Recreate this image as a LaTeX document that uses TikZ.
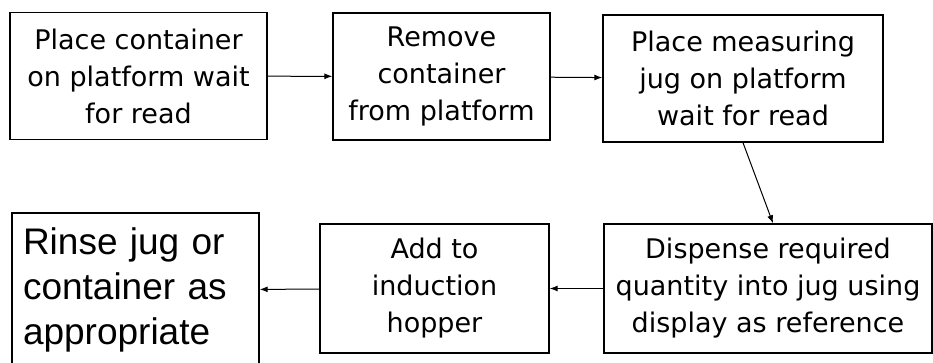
\documentclass[tikz,border=0pt]{standalone}
\usepackage{fontspec}
\setmainfont{DejaVu Sans}
\newfontfamily\rinsefont{Liberation Sans}
\usetikzlibrary{arrows.meta}
\usetikzlibrary{positioning}
\tikzset{
	stepbox/.style={draw, line width=1.4pt, align=center, inner sep=2pt,
		font=\fontsize{27}{37}\selectfont},
	flow/.style={-{Latex[length=8pt,width=6pt]}, line width=1pt}
}
\begin{document}
\begin{tikzpicture}[x=1pt, y=1pt]
		\useasboundingbox (0,0) rectangle (933,362);
		\node[stepbox, minimum width=257pt, minimum height=127pt] (place) at (138.5,286) {Place container\\ on platform wait\\ for read};
		\node[stepbox, minimum width=217pt, minimum height=127pt] (remove) at (441.5,285.5) {Remove\\ container\\ from platform};
		\node[stepbox, minimum width=280pt, minimum height=127pt] (jug) at (743,283.5) {Place measuring\\ jug on platform\\ wait for read};
		\node[stepbox, minimum width=328pt, minimum height=129pt] (dispense) at (768,73.5) {Dispense required\\ quantity into jug using\\ display as reference};
		\node[stepbox, minimum width=229pt, minimum height=129pt] (hopper) at (434.5,73.5) {Add to\\ induction\\ hopper};
		\node[stepbox, minimum width=247pt, minimum height=154pt, align=left, text width=225pt,
			font=\rinsefont\fontsize{37}{45}\selectfont] (rinse) at (135.5,72) {Rinse jug or\\ container as\\ appropriate};
		\draw[flow] (place) -- (remove);
		\draw[flow] (remove) -- (jug);
		\draw[flow] (jug.south) -- ([xshift=5pt]dispense.north);
		\draw[flow] (dispense) -- (hopper);
		\draw[flow] (hopper) -- (rinse);
	\end{tikzpicture}
\end{document}
